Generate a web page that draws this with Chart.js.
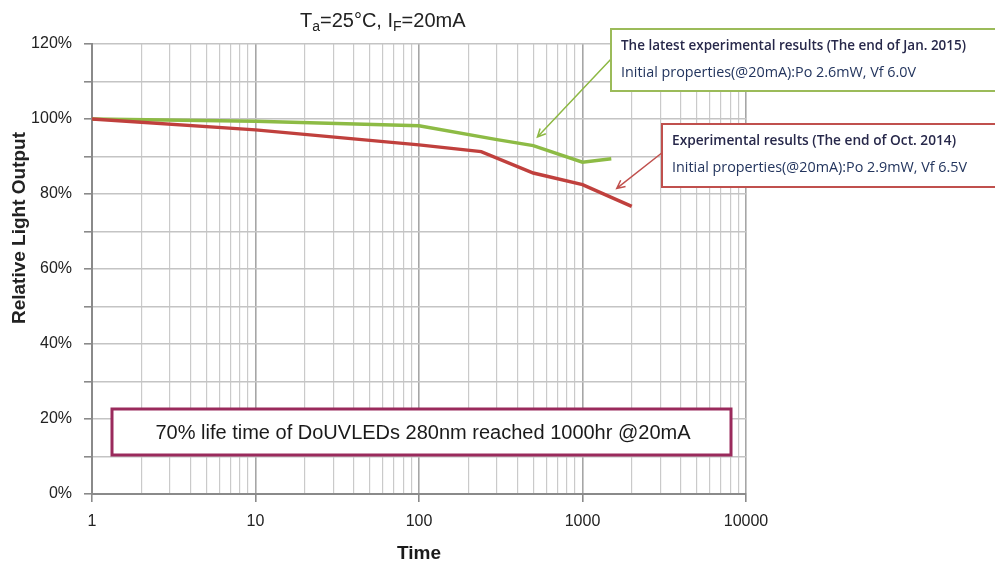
<!DOCTYPE html>
<html>
<head>
<meta charset="utf-8">
<script src="https://cdn.jsdelivr.net/npm/chart.js@4.4.0/dist/chart.umd.min.js"></script>
<style>
  html, body { margin: 0; padding: 0; background: #fff; }
  #wrap { width: 995px; height: 571px; }
</style>
</head>
<body>
<div id="wrap"><canvas id="lifeChart" width="995" height="571"></canvas></div>
<script>
// data
var redTime = [1, 10, 100, 240, 500, 1000, 1500, 2000];
var redValue = [100, 97.1, 93.1, 91.3, 85.6, 82.5, 79.1, 76.7];
var greenTime = [1, 10, 100, 300, 500, 1000, 1500];
var greenValue = [100, 99.4, 98.2, 94.5, 92.9, 88.5, 89.4];
var decades = [1, 10, 100, 1000, 10000];
var yTicks = [0, 20, 40, 60, 80, 100, 120];

var xTickValues = [];
for (var d = 0; d < 4; d++) {
    for (var k = 1; k < 10; k++) xTickValues.push(k * decades[d]);
}
xTickValues.push(10000);

function toPoints(xs, ys) {
    return xs.map(function (x, i) { return { x: x, y: ys[i] }; });
}

function isDecade(v) {
    return decades.indexOf(v) !== -1;
}

function arrow(ctx, x1, y1, x2, y2, color) {
    var a = Math.atan2(y2 - y1, x2 - x1);
    var h = 9;
    ctx.save();
    ctx.strokeStyle = color;
    ctx.lineWidth = 1.5;
    ctx.beginPath();
    ctx.moveTo(x1, y1);
    ctx.lineTo(x2, y2);
    ctx.moveTo(x2 - h * Math.cos(a - 0.45), y2 - h * Math.sin(a - 0.45));
    ctx.lineTo(x2, y2);
    ctx.lineTo(x2 - h * Math.cos(a + 0.45), y2 - h * Math.sin(a + 0.45));
    ctx.stroke();
    ctx.restore();
}

function noteBox(ctx, x, y, w, h, color, lines) {
    ctx.save();
    ctx.fillStyle = '#fff';
    ctx.fillRect(x, y, w, h);
    ctx.strokeStyle = color;
    ctx.lineWidth = 2;
    ctx.strokeRect(x, y, w, h);
    ctx.fillStyle = '#27284a';
    ctx.textBaseline = 'middle';
    ctx.font = '600 14.5px "Open Sans"';
    ctx.fillText(lines[0], x + 10, y + 17, lines[2]);
    ctx.font = '14.5px "Open Sans"';
    ctx.fillStyle = '#23355e';
    ctx.fillText(lines[1], x + 10, y + 44, lines[3]);
    ctx.restore();
}

var extras = {
    id: 'extras',
    afterDraw: function (chart) {
        var ctx = chart.ctx;
        var xs = chart.scales.x, ys = chart.scales.y;

        // title with subscripts
        ctx.save();
        ctx.fillStyle = '#222';
        ctx.textBaseline = 'alphabetic';
        var parts = [['T', 0], ['a', 1], ['=25°C, I', 0], ['F', 1], ['=20mA', 0]];
        var px = 300;
        parts.forEach(function (p) {
            ctx.font = p[1] ? '14px "Liberation Sans"' : '20px "Liberation Sans"';
            ctx.fillText(p[0], px, p[1] ? 31 : 27);
            px += ctx.measureText(p[0]).width;
        });

        // y axis title
        ctx.translate(20, 228);
        ctx.rotate(-Math.PI / 2);
        ctx.font = 'bold 19px "Liberation Sans"';
        ctx.textAlign = 'center';
        ctx.textBaseline = 'middle';
        ctx.fillText('Relative Light Output', 0, 0);
        ctx.restore();

        // arrows to the curves
        arrow(ctx, 612, 58, xs.getPixelForValue(530), ys.getPixelForValue(95.2), '#8DB843');
        arrow(ctx, 663, 152, xs.getPixelForValue(1620), ys.getPixelForValue(81.5), '#C0504D');

        noteBox(ctx, 611, 29, 400, 62, '#9BBB59',
            ['The latest experimental results (The end of Jan. 2015)',
             'Initial properties(@20mA):Po 2.6mW, Vf 6.0V', 345, 295]);
        noteBox(ctx, 662, 124, 360, 63, '#C0504D',
            ['Experimental results (The end of Oct. 2014)',
             'Initial properties(@20mA):Po 2.9mW, Vf 6.5V', 284, 295]);

        // life time box
        ctx.save();
        ctx.fillStyle = '#fff';
        ctx.fillRect(112, 409, 619, 46);
        ctx.strokeStyle = '#9A2A5C';
        ctx.lineWidth = 3;
        ctx.strokeRect(112, 409, 619, 46);
        ctx.fillStyle = '#1a1a1a';
        ctx.font = '20px "Liberation Sans"';
        ctx.textAlign = 'center';
        ctx.textBaseline = 'middle';
        ctx.fillText('70% life time of DoUVLEDs 280nm reached 1000hr @20mA', 423, 433, 552);
        ctx.restore();
    }
};

var ctx = document.getElementById('lifeChart').getContext('2d');
var myChart = new Chart(ctx, {
    type: 'line',
    data: {
        datasets: [{
            label: 'Oct. 2014',
            data: toPoints(redTime, redValue),
            borderColor: '#C0403D',
            borderWidth: 3.5,
            pointRadius: 0,
            tension: 0
        }, {
            label: 'Jan. 2015',
            data: toPoints(greenTime, greenValue),
            borderColor: '#8DBB45',
            borderWidth: 3.5,
            pointRadius: 0,
            tension: 0
        }]
    },
    options: {
        responsive: false,
        devicePixelRatio: 1,
        animation: false,
        layout: { padding: { top: 44, right: 249, left: 0, bottom: 0 } },
        plugins: { legend: { display: false }, tooltip: { enabled: false } },
        scales: {
            x: {
                type: 'logarithmic',
                min: 1,
                max: 10000,
                afterBuildTicks: function (scale) {
                    scale.ticks = xTickValues.map(function (v) { return { value: v }; });
                },
                afterFit: function (scale) { scale.height = 77; },
                ticks: {
                    autoSkip: false,
                    maxRotation: 0,
                    padding: 10,
                    color: '#222',
                    font: { family: 'Liberation Sans', size: 16 },
                    callback: function (v) { return isDecade(v) ? String(v) : ''; }
                },
                grid: {
                    color: function (c) { return c.tick && isDecade(c.tick.value) ? '#A6A6A6' : '#CACACA'; },
                    lineWidth: function (c) { return c.tick && isDecade(c.tick.value) ? 1.6 : 1.2; },
                    tickColor: function (c) { return c.tick && isDecade(c.tick.value) ? '#8A8A8A' : 'rgba(0,0,0,0)'; },
                    tickLength: 8
                },
                border: { color: '#8A8A8A', width: 2 },
                title: {
                    display: true,
                    text: 'Time',
                    color: '#1a1a1a',
                    font: { family: 'Liberation Sans', size: 19, weight: 'bold' },
                    padding: { top: 0, bottom: 6 }
                }
            },
            y: {
                min: 0,
                max: 120,
                afterFit: function (scale) { scale.width = 92; },
                ticks: {
                    stepSize: 10,
                    padding: 12,
                    color: '#222',
                    font: { family: 'Liberation Sans', size: 16 },
                    callback: function (v) { return yTicks.indexOf(v) !== -1 ? v + '%' : ''; }
                },
                grid: {
                    color: '#C4C4C4',
                    lineWidth: 1.6,
                    tickColor: '#8A8A8A',
                    tickLength: 8
                },
                border: { color: '#8A8A8A', width: 2 }
            }
        }
    },
    plugins: [extras]
});
</script>
</body>
</html>
